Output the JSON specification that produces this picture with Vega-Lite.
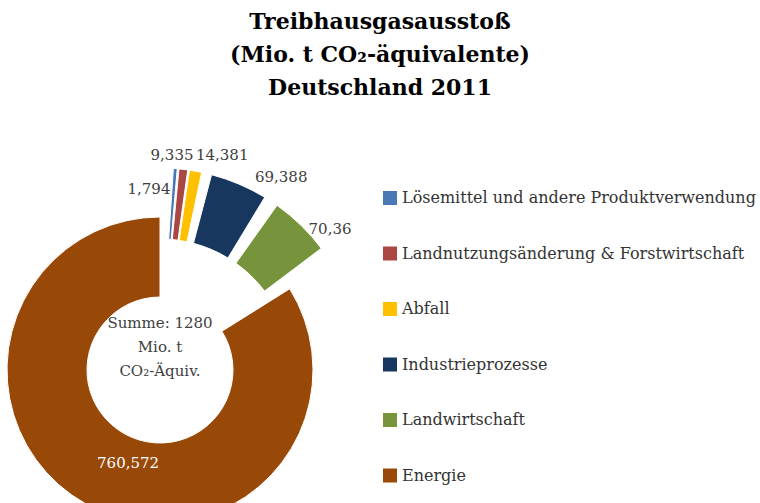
{
  "$schema": "https://vega.github.io/schema/vega-lite/v6.json",
  "width": 320,
  "height": 480,
  "autosize": {"type": "none"},
  "padding": {"left": 0, "top": 130, "right": 440, "bottom": 0},
  "background": "white",
  "title": {
    "text": ["Treibhausgasausstoß", "(Mio. t CO₂-äquivalente)", "Deutschland 2011"],
    "anchor": "middle",
    "frame": "group",
    "dx": 220,
    "offset": 30,
    "font": "DejaVu Serif",
    "fontSize": 22,
    "fontWeight": "bold",
    "color": "#000000",
    "lineHeight": 33
  },
  "config": {
    "view": {"stroke": null},
    "locale": {"number": {"decimal": ",", "thousands": ".", "grouping": [3], "currency": ["", " €"]}}
  },
  "data": {
    "values": [
      {"Nr": 1, "Sektor": "Lösemittel und andere Produktverwendung", "Wert": 1.794},
      {"Nr": 2, "Sektor": "Landnutzungsänderung & Forstwirtschaft", "Wert": 9.335},
      {"Nr": 3, "Sektor": "Abfall", "Wert": 14.381},
      {"Nr": 4, "Sektor": "Industrieprozesse", "Wert": 69.388},
      {"Nr": 5, "Sektor": "Landwirtschaft", "Wert": 70.36},
      {"Nr": 6, "Sektor": "Energie", "Wert": 760.572}
    ]
  },
  "layer": [
    {
      "transform": [
        {"stack": "Wert", "groupby": [], "sort": [{"field": "Nr", "order": "ascending"}], "as": ["w0", "w1"]}
      ],
      "mark": {
        "type": "arc",
        "radius": {"expr": "datum.Sektor === 'Energie' ? 153 : 202"},
        "radius2": {"expr": "datum.Sektor === 'Energie' ? 73 : 131"},
        "thetaOffset": {"expr": "[0.0663, 0.0820, 0.0710, 0.085, -0.026, -0.110][datum.Nr - 1]"},
        "theta2Offset": {"expr": "[0.0733, 0.0623, 0.0346, -0.099, -0.197, 0][datum.Nr - 1]"},
        "stroke": "#ffffff",
        "strokeWidth": 1
      },
      "encoding": {
        "theta": {"field": "w0", "type": "quantitative"},
        "theta2": {"field": "w1"},
        "order": {"field": "Nr", "type": "quantitative"},
        "color": {
          "field": "Sektor",
          "type": "nominal",
          "scale": {
            "domain": ["Lösemittel und andere Produktverwendung", "Landnutzungsänderung & Forstwirtschaft", "Abfall", "Industrieprozesse", "Landwirtschaft", "Energie"],
            "range": ["#4A78B4", "#AA4643", "#FFC000", "#17375E", "#77933C", "#984807"]
          },
          "legend": {
            "orient": "none",
            "legendX": 382,
            "legendY": 60,
            "title": null,
            "symbolType": "square",
            "symbolSize": 196,
            "symbolStrokeWidth": 0,
            "labelFont": "DejaVu Serif",
            "labelFontSize": 16,
            "labelColor": "#333333",
            "labelLimit": 420,
            "labelOffset": 4,
            "rowPadding": 39.5,
            "padding": 0
          }
        }
      }
    },
    {
      "mark": {
        "type": "text",
        "radius": {"expr": "[181, 215, 224, 228, 221, 98][datum.Nr - 1]"},
        "thetaOffset": {"expr": "[-0.067, 0.012, 0.157, 0.152, -0.005, -0.229][datum.Nr - 1]"},
        "fill": {"expr": "datum.Sektor === 'Energie' ? '#ffffff' : '#404040'"},
        "font": "DejaVu Serif",
        "fontSize": 15,
        "align": "center",
        "baseline": "middle"
      },
      "encoding": {
        "theta": {"field": "Wert", "type": "quantitative", "stack": true},
        "order": {"field": "Nr", "type": "quantitative"},
        "text": {"field": "Wert", "type": "quantitative", "format": ".3~f"}
      }
    },
    {
      "data": {"values": [{"Hinweis": "Summe: 1280|Mio. t|CO₂-Äquiv."}]},
      "mark": {
        "type": "text",
        "lineBreak": "|",
        "font": "DejaVu Serif",
        "fontSize": 15,
        "color": "#404040",
        "lineHeight": 24,
        "dy": -47,
        "align": "center",
        "baseline": "middle"
      },
      "encoding": {"text": {"field": "Hinweis", "type": "nominal"}}
    }
  ]
}
